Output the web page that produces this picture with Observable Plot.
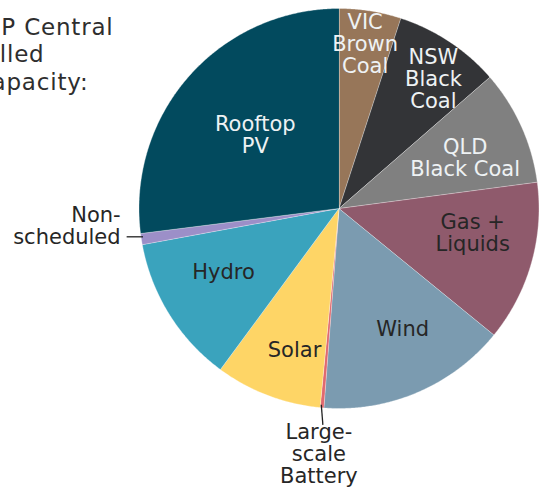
<!DOCTYPE html>
<html><head><meta charset="utf-8">
<script src="https://cdn.jsdelivr.net/npm/d3@7"></script>
<script src="https://cdn.jsdelivr.net/npm/@observablehq/plot@0.6"></script>
<style>body{margin:0;background:#fff;} #chart svg{display:block;}</style>
</head><body><div id="chart"></div>
<script>
// ---- data ----
const categories = ["VIC Brown Coal","NSW Black Coal","QLD Black Coal","Gas + Liquids","Wind","Large-scale Battery","Solar","Hydro","Non-scheduled","Rooftop PV"];
const values = [5.0, 8.6, 9.3, 13.0, 15.3, 0.3, 8.6, 12.0, 0.9, 27.0];
const sliceLabels = ["VIC\nBrown\nCoal","NSW\nBlack\nCoal","QLD\nBlack Coal","Gas +\nLiquids","Wind","Large-\nscale\nBattery","Solar","Hydro","Non-\nscheduled","Rooftop\nPV"];
const titleLines = ["ISP Central","Installed","Capacity:"];

// ---- styles ----
const colors = ["#977659","#333437","#808080","#8f5a6c","#7b9bb0","#e0696f","#fed566","#3aa3bd","#9c8fc8","#024a5e"];
const FONT = "DejaVu Sans";
const LIGHT = "#eef2f4", DARK = "#262626";
// label layout: radius fraction and angle tweak (deg), text colour
const layout = {
  "VIC Brown Coal": {r: 0.835, da: 0, fill: LIGHT},
  "NSW Black Coal": {r: 0.80, da: 2.7, fill: LIGHT},
  "QLD Black Coal": {r: 0.68, da: 2.4, fill: LIGHT},
  "Gas + Liquids": {r: 0.68, da: -5.3, fill: DARK},
  "Wind": {r: 0.68, da: -4.7, fill: DARK},
  "Solar": {r: 0.74, da: -3.4, fill: DARK},
  "Hydro": {r: 0.66, da: 3.1, fill: DARK},
  "Rooftop PV": {r: 0.558, da: 0, fill: LIGHT}
};

const rows = categories.map((c, i) => ({category: c, value: values[i], label: sliceLabels[i]}));
const arcs = d3.pie().sort(null).value(d => d.value)(rows);
const deg = Math.PI / 180;
const polar = (a, r) => ({x: r * Math.sin(a), y: r * Math.cos(a)});

// slice outlines (center + arc), computed from the pie angles
const slicePts = [];
for (const a of arcs) {
  const n = Math.max(2, Math.ceil((a.endAngle - a.startAngle) / (0.4 * deg)));
  slicePts.push({category: a.data.category, ...polar(0, 0)});
  for (let k = 0; k <= n; k++) {
    const t = a.startAngle + (a.endAngle - a.startAngle) * k / n;
    slicePts.push({category: a.data.category, ...polar(t, 1)});
  }
}

// inside labels
const inside = arcs.filter(a => layout[a.data.category]).map(a => {
  const L = layout[a.data.category];
  const mid = (a.startAngle + a.endAngle) / 2 + L.da * deg;
  return {...polar(mid, L.r), label: a.data.label, fill: L.fill};
});

// outside labels with leaders
const arcOf = c => arcs.find(a => a.data.category === c);
const nonA = arcOf("Non-scheduled");
const nonMid = (nonA.startAngle + nonA.endAngle) / 2 + 0.6 * deg;
const nonP = polar(nonMid, 0.99);
const nonLeader = [{x1: nonP.x, y1: nonP.y, x2: nonP.x - 0.082, y2: nonP.y}];
const nonText = [{x: nonP.x - 0.112, y: nonP.y, label: nonA.data.label}];

const batA = arcOf("Large-scale Battery");
const batMid = (batA.startAngle + batA.endAngle) / 2;
const b1 = polar(batMid + 0.3 * deg, 0.985), b2 = polar(batMid - 0.6 * deg, 1.085);
const batLeader = [{x1: b1.x, y1: b1.y, x2: b2.x, y2: b2.y}];
const batText = [{x: b2.x - 0.02, y: b2.y, label: batA.data.label}];

const titleStyle = {frameAnchor: "top-left", text: d => d, fill: "#2e2e2e", fontSize: 23, textAnchor: "end", style: "letter-spacing:0.8px"};

const W = 545, H = 488;
const chart = Plot.plot({
  width: W, height: H,
  marginLeft: 138.5, marginRight: 6.5, marginTop: 8, marginBottom: 80,
  x: {domain: [-1, 1], axis: null},
  y: {domain: [-1, 1], axis: null},
  color: {type: "ordinal", domain: categories, range: colors},
  style: {fontFamily: FONT, background: "#fff", overflow: "visible"},
  marks: [
    Plot.line(slicePts, {x: "x", y: "y", z: "category", fill: "category", stroke: "#ffffff", strokeWidth: 0.6, strokeOpacity: 0.55, curve: "linear-closed"}),
    Plot.link(nonLeader, {x1: "x1", y1: "y1", x2: "x2", y2: "y2", stroke: "#222", strokeWidth: 1.3}),
    Plot.link(batLeader, {x1: "x1", y1: "y1", x2: "x2", y2: "y2", stroke: "#222", strokeWidth: 1.3}),
    Plot.text(inside, {x: "x", y: "y", text: "label", fill: "fill", fontSize: 21, lineHeight: 1.05}),
    Plot.text(nonText, {x: "x", y: "y", text: "label", fill: DARK, fontSize: 21, lineHeight: 1.05, textAnchor: "end", dy: -11}),
    Plot.text(batText, {x: "x", y: "y", text: "label", fill: DARK, fontSize: 21, lineHeight: 1.05, lineAnchor: "top", dy: -2}),
    Plot.text([titleLines[0]], {...titleStyle, dx: 113 - 138.5, dy: 18 - 8}),
    Plot.text([titleLines[1]], {...titleStyle, dx: 44 - 138.5, dy: 45 - 8}),
    Plot.text([titleLines[2]], {...titleStyle, dx: 88 - 138.5, dy: 73 - 8})
  ]
});
chart.querySelectorAll("text").forEach(t => {
  if (titleLines.includes(t.textContent)) t.style.letterSpacing = "0.8px";
});
document.getElementById("chart").appendChild(chart);
</script>
</body></html>
